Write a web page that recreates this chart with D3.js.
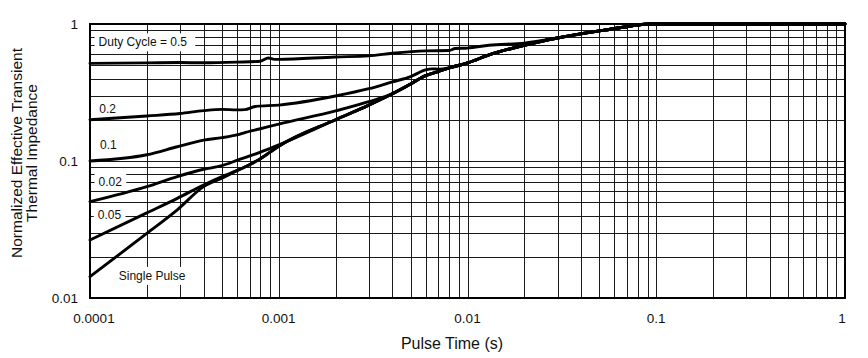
<!DOCTYPE html>
<html><head><meta charset="utf-8">
<script src="https://cdn.jsdelivr.net/npm/d3@7"></script>
<style>
body{margin:0;background:#fff}
svg{display:block}
text{font-family:"Liberation Sans",Arial,Helvetica,sans-serif;fill:#111}
</style>
</head><body>
<svg id="c" width="868" height="358"></svg>
<script>
// ---- axis data ----
const xTicks = [0.0001, 0.001, 0.01, 0.1, 1];
const xTickLabels = ["0.0001", "0.001", "0.01", "0.1", "1"];
const yTicks = [0.01, 0.1, 1];
const yTickLabels = ["0.01", "0.1", "1"];
const xTitle = "Pulse Time (s)";
const yTitle = ["Normalized Effective Transient", "Thermal Impedance"];

// ---- shared merged tail (all duty cycles converge) ----
const tTail = [0.002, 0.003, 0.004, 0.005, 0.006, 0.007, 0.008, 0.01, 0.013, 0.02, 0.03, 0.05, 0.07, 0.09, 1];
const zTail = [0.2, 0.256, 0.31, 0.365, 0.42, 0.45, 0.478, 0.52, 0.594, 0.70, 0.79, 0.89, 0.955, 1, 1];

// ---- series ----
const tD05 = [1e-4, 2e-4, 3e-4, 4e-4, 6e-4, 8e-4, 8.8e-4, 9.5e-4, 1e-3, 2e-3, 3e-3, 4e-3, 6e-3, 8e-3, 8.6e-3, 0.01, 0.013, 0.02, 0.03];
const zD05 = [0.516, 0.52, 0.523, 0.521, 0.527, 0.535, 0.565, 0.552, 0.552, 0.575, 0.585, 0.612, 0.637, 0.64, 0.662, 0.667, 0.70, 0.725, 0.79];

const tD02 = [1e-4, 2e-4, 3e-4, 4e-4, 5e-4, 6e-4, 6.6e-4, 7.5e-4, 1e-3, 2e-3, 3e-3, 4e-3, 5e-3, 6e-3, 6.5e-3, 7e-3, 8e-3];
const zD02 = [0.2, 0.213, 0.222, 0.233, 0.238, 0.236, 0.237, 0.25, 0.256, 0.298, 0.337, 0.378, 0.413, 0.462, 0.47, 0.468, 0.478];

const tD01 = [1e-4, 2e-4, 2.9e-4, 4e-4, 5e-4, 6e-4, 6.5e-4, 8e-4, 1e-3, 2e-3, 3e-3, 4e-3];
const zD01 = [0.1, 0.111, 0.127, 0.142, 0.148, 0.155, 0.16, 0.172, 0.186, 0.232, 0.271, 0.31];

const tD005 = [1e-4, 2e-4, 2.9e-4, 4e-4, 5e-4, 6e-4, 8e-4, 1e-3];
const zD005 = [0.0505, 0.065, 0.077, 0.087, 0.0925, 0.101, 0.116, 0.131];

const tD002 = [1e-4, 2e-4, 2.9e-4, 4e-4, 5e-4, 6e-4, 7e-4, 8e-4, 9e-4, 1e-3];
const zD002 = [0.0265, 0.0418, 0.0534, 0.0668, 0.077, 0.085, 0.094, 0.104, 0.116, 0.128];

const tSingle = [1e-4, 2e-4, 2.9e-4, 4e-4, 5e-4];
const zSingle = [0.0143, 0.0296, 0.044, 0.065, 0.075];

// ---- in-plot labels ----
const labelTexts = ["Duty Cycle = 0.5", "0.2", "0.1", "0.02", "0.05", "Single Pulse"];
const labelT = [1.11e-4, 1.12e-4, 1.13e-4, 1.11e-4, 1.10e-4, 1.42e-4];
const labelZ = [0.725, 0.238, 0.128, 0.0695, 0.0396, 0.0143];

// ---- build ----
function withTail(t, z, tt, zt) {
  const pts = t.map((v, i) => ({t: v, z: z[i]}));
  const last = t[t.length - 1];
  tt.forEach((v, i) => { if (v > last) pts.push({t: v, z: zt[i]}); });
  return pts;
}
const sB = withTail(tD002, zD002, tTail, zTail);
const series = [
  withTail(tD05, zD05, tTail, zTail),
  withTail(tD02, zD02, tTail, zTail),
  withTail(tD01, zD01, tTail, zTail),
  withTail(tD005, zD005, tTail, zTail),
  sB,
  withTail(tSingle, zSingle, sB.map(d => d.t), sB.map(d => d.z))
];

const svg = d3.select("#c");
const L = 90, R = 845, T = 24, B = 298;
const x = d3.scaleLog().domain([1e-4, 1]).range([L, R]);
const y = d3.scaleLog().domain([0.01, 1]).range([B, T]);

// grid
const minorX = [];
for (let e = -4; e < 0; e++) for (let k = 1; k <= 9; k++) minorX.push(k * Math.pow(10, e));
const minorY = [];
for (let e = -2; e < 0; e++) for (let k = 1; k <= 9; k++) minorY.push(k * Math.pow(10, e));
const g = svg.append("g").attr("shape-rendering", "crispEdges");
g.selectAll("line.v").data(minorX).enter().append("line")
  .attr("x1", d => Math.round(x(d)) + 0.5).attr("x2", d => Math.round(x(d)) + 0.5)
  .attr("y1", T).attr("y2", B).attr("stroke", "#1a1a1a").attr("stroke-width", 1);
g.selectAll("line.h").data(minorY).enter().append("line")
  .attr("y1", d => Math.round(y(d)) + 0.5).attr("y2", d => Math.round(y(d)) + 0.5)
  .attr("x1", L).attr("x2", R).attr("stroke", "#1a1a1a").attr("stroke-width", 1);

// label backgrounds + labels
const lab = svg.append("g");
labelTexts.forEach((s, i) => {
  const tx = lab.append("text").attr("x", x(labelT[i])).attr("y", y(labelZ[i]))
    .attr("dominant-baseline", "middle").attr("font-size", 12).text(s);
  const bb = tx.node().getBBox();
  lab.insert("rect", "text").attr("x", bb.x - 4).attr("y", bb.y - 2)
    .attr("width", bb.width + (i === 0 ? 12 : 8)).attr("height", bb.height + 4).attr("fill", "#fff");
});

// curves
const line = d3.line().x(d => x(d.t)).y(d => y(d.z)).curve(d3.curveMonotoneX);
svg.append("g").selectAll("path").data(series).enter().append("path")
  .attr("d", line).attr("fill", "none").attr("stroke", "#000")
  .attr("stroke-width", 2.9).attr("stroke-linejoin", "round").attr("stroke-linecap", "round");

// frame
svg.append("rect").attr("x", L).attr("y", T).attr("width", R - L).attr("height", B - T)
  .attr("fill", "none").attr("stroke", "#000").attr("stroke-width", 2);

// x tick labels
const xdx = [4, 0, 0, 0, -3];
svg.append("g").selectAll("text").data(xTicks).enter().append("text")
  .attr("x", (d, i) => x(d) + xdx[i]).attr("y", 323).attr("text-anchor", "middle")
  .attr("font-size", 13.5).text((d, i) => xTickLabels[i]);

// y tick labels
svg.append("g").selectAll("text").data(yTicks).enter().append("text")
  .attr("x", 78).attr("y", d => y(d) + 5).attr("text-anchor", "end")
  .attr("font-size", 13.5).text((d, i) => yTickLabels[i]);

// titles
svg.append("text").attr("x", 452).attr("y", 349).attr("text-anchor", "middle")
  .attr("font-size", 16).text(xTitle);
svg.append("g").attr("transform", "translate(0,153)").selectAll("text").data(yTitle).enter()
  .append("text").attr("transform", (d, i) => `translate(${i === 0 ? 22 : 37},0) rotate(-90)`)
  .attr("text-anchor", "middle").attr("font-size", 15.5).text(d => d);
</script>
</body></html>
